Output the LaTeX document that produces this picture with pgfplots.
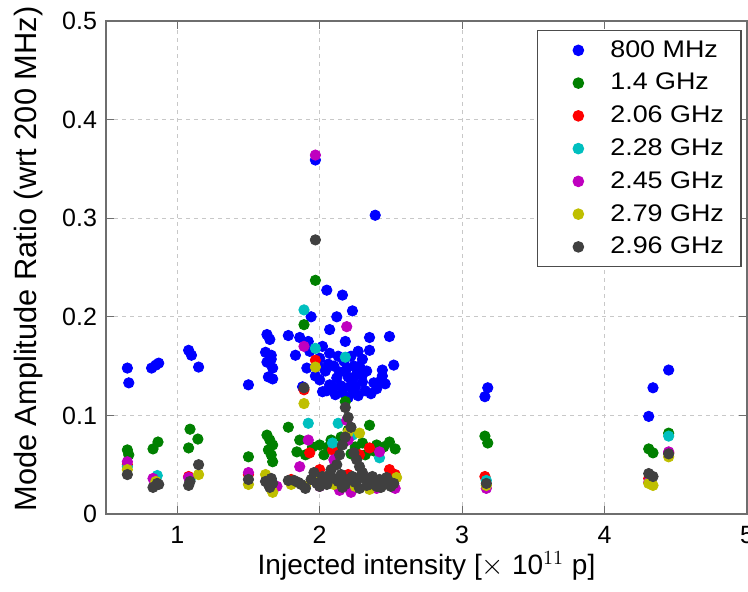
\documentclass[border=0pt]{standalone}
\usepackage{fontspec}
\setmainfont{Liberation Sans}
\newfontfamily\legfont{Liberation Sans}[FakeStretch=1.12]
\usepackage{pgfplots}
\pgfplotsset{compat=1.18}
\definecolor{colB}{RGB}{0,0,255}
\definecolor{colG}{RGB}{0,128,0}
\definecolor{colR}{RGB}{255,0,0}
\definecolor{colC}{RGB}{0,191,191}
\definecolor{colM}{RGB}{191,0,191}
\definecolor{colY}{RGB}{191,191,0}
\definecolor{colK}{RGB}{64,64,64}
\definecolor{axgray}{RGB}{110,110,110}
\definecolor{gridgray}{RGB}{200,200,200}
\begin{document}
\begin{tikzpicture}
\begin{axis}[
  name=ax,
  scale only axis,
  width=320.5pt, height=246.5pt,
  xmin=0.5, xmax=5, ymin=0, ymax=0.5,
  xtick={1,2,3,4,5}, ytick={0,0.1,0.2,0.3,0.4,0.5},
  yticklabels={0,0.1,0.2,0.3,0.4,0.5},
  xticklabels={1,2,3,4,5},
  tick align=inside,
  major tick length=4pt,
  axis line style={axgray, line width=0.8pt},
  every tick/.style={axgray, line width=0.6pt},
  grid=major,
  major grid style={gridgray, dash pattern=on 2pt off 2pt, line width=0.5pt},
  tick label style={font=\fontsize{12.5}{15}\selectfont},
  xticklabel style={yshift=-2.5pt},
  yticklabel style={xshift=-1pt},
  /pgf/number format/assume math mode=true,
  xlabel={Injected intensity [$\times$ 10$^{11}$ p]},
  ylabel={Mode Amplitude Ratio (wrt 200 MHz)},
  xlabel style={font=\fontsize{14}{16}\selectfont, at={(axis description cs:0.5,-0.1237)}, anchor=base},
  ylabel style={font=\fontsize{15.4}{18}\selectfont, at={(axis description cs:-0.1201,0.517)}, anchor=center},
  legend cell align=left,
  legend style={at={(rel axis cs:0.672,0.982)}, anchor=north west,
    font=\legfont\fontsize{12}{14}\selectfont, draw=black!70, line width=0.6pt,
    inner xsep=6.5pt, inner ysep=3pt, row sep=2.5pt},
  every axis plot/.append style={only marks, mark=*, mark size=2.6pt,
    legend image code/.code={\path[draw=none,fill=none] (0pt,0pt) (28pt,0pt);\path[#1,draw=none] plot[only marks] coordinates {(14pt,0pt)};}},
]
\addplot[colB] coordinates {
(0.65,0.148)(0.66,0.133)(0.82,0.148)(0.85,0.151)(0.87,0.153)
(1.08,0.166)(1.10,0.161)(1.15,0.149)(1.50,0.131)
(1.63,0.182)(1.65,0.177)(1.62,0.164)(1.66,0.161)(1.63,0.154)(1.67,0.148)(1.64,0.139)(1.67,0.137)(1.66,0.157)
(1.78,0.181)(1.86,0.179)(1.92,0.175)(1.83,0.161)(1.91,0.148)(1.88,0.129)
(1.97,0.359)(2.39,0.303)(2.05,0.227)(2.16,0.222)(2.23,0.206)(2.12,0.200)(1.94,0.200)(2.07,0.187)
(2.35,0.179)(2.49,0.180)(2.18,0.175)(2.35,0.166)(2.07,0.163)(2.52,0.151)(2.44,0.146)(2.42,0.134)
(2.30,0.141)(2.14,0.144)(2.23,0.136)(2.07,0.131)(2.38,0.133)(2.00,0.136)(2.02,0.124)(2.09,0.129)
(2.21,0.129)(2.30,0.134)(1.93,0.165)(1.97,0.140)(1.99,0.150)(2.04,0.145)(2.10,0.150)(2.12,0.138)
(2.15,0.130)(2.17,0.155)(2.19,0.148)(2.20,0.139)(2.22,0.160)(2.24,0.150)(2.25,0.128)(2.26,0.142)
(2.27,0.120)(2.28,0.150)(2.32,0.125)(2.33,0.145)(2.36,0.122)(2.40,0.127)(2.44,0.140)(2.46,0.132)
(2.05,0.125)(2.11,0.121)(2.16,0.123)(2.20,0.118)(2.24,0.124)(2.13,0.160)(2.27,0.165)(2.30,0.157)
(2.00,0.158)(2.06,0.152)(2.02,0.170)
(3.16,0.119)(3.18,0.128)(4.31,0.099)(4.34,0.128)(4.45,0.146)
};
\addlegendentry{800 MHz}
\addplot[colG] coordinates {
(0.65,0.065)(0.66,0.060)(0.83,0.066)(0.865,0.073)(1.09,0.086)(1.145,0.076)(1.08,0.067)(1.50,0.058)
(1.63,0.080)(1.65,0.075)(1.67,0.070)(1.64,0.065)(1.66,0.060)(1.67,0.053)(1.78,0.088)(1.86,0.075)
(1.84,0.063)(1.90,0.060)(1.89,0.192)(1.97,0.237)(2.00,0.070)(2.03,0.060)(2.06,0.068)(2.12,0.066)
(2.18,0.114)(2.20,0.085)(2.15,0.078)(2.25,0.068)(2.30,0.072)(2.35,0.090)(2.32,0.060)(2.40,0.070)
(2.45,0.068)(2.49,0.073)(2.53,0.066)(2.38,0.064)(2.22,0.061)(2.08,0.075)(1.95,0.068)
(3.16,0.079)(3.18,0.072)(4.31,0.066)(4.34,0.062)(4.45,0.082)
};
\addlegendentry{1.4 GHz}
\addplot[colR] coordinates {
(0.65,0.050)(0.84,0.036)(1.08,0.038)(1.50,0.040)(1.65,0.033)(1.97,0.156)(1.89,0.126)(1.93,0.062)
(2.09,0.065)(2.35,0.067)(2.28,0.060)(2.49,0.045)(2.53,0.040)(2.20,0.040)(2.00,0.045)(1.80,0.035)
(3.16,0.038)(4.31,0.036)(4.45,0.062)
};
\addlegendentry{2.06 GHz}
\addplot[colC] coordinates {
(0.65,0.048)(0.86,0.039)(1.09,0.035)(1.89,0.207)(1.97,0.168)(2.18,0.159)(1.92,0.092)(2.09,0.072)
(2.13,0.092)(2.42,0.057)(2.23,0.080)(1.66,0.035)(3.17,0.034)(4.45,0.079)(4.32,0.035)
};
\addlegendentry{2.28 GHz}
\addplot[colM] coordinates {
(0.65,0.053)(0.83,0.036)(1.08,0.037)(1.50,0.042)(1.97,0.364)(1.89,0.170)(2.19,0.190)(1.92,0.075)
(1.86,0.048)(2.19,0.095)(2.42,0.063)(2.53,0.026)(2.20,0.075)(2.10,0.055)(2.30,0.040)(2.40,0.026)
(2.00,0.028)(1.70,0.028)(1.65,0.030)(3.17,0.026)(4.31,0.032)(4.45,0.063)(2.22,0.022)(2.14,0.024)
};
\addlegendentry{2.45 GHz}
\addplot[colY] coordinates {
(0.65,0.045)(0.85,0.033)(1.15,0.040)(1.50,0.030)(1.62,0.040)(1.66,0.025)(1.67,0.022)(1.97,0.149)
(1.89,0.112)(2.20,0.083)(2.54,0.037)(2.45,0.030)(2.35,0.025)(2.25,0.028)(2.10,0.030)(2.00,0.033)
(1.90,0.028)(1.80,0.030)(2.28,0.082)(3.17,0.029)(4.31,0.031)(4.34,0.029)(4.45,0.058)
};
\addlegendentry{2.79 GHz}
\addplot[colK] coordinates {
(0.65,0.040)(0.83,0.027)(0.86,0.031)(0.87,0.030)(1.08,0.029)(1.09,0.033)(1.15,0.050)(1.50,0.035)
(1.62,0.033)(1.64,0.030)(1.66,0.036)(1.67,0.031)(1.65,0.027)(1.78,0.034)(1.85,0.032)(1.90,0.026)
(1.89,0.128)(1.97,0.278)(2.18,0.108)(2.18,0.078)(2.16,0.070)(2.20,0.098)(2.22,0.088)(2.24,0.062)
(2.14,0.060)(2.26,0.055)(2.12,0.050)(2.28,0.048)(2.08,0.045)(2.30,0.042)(1.96,0.042)(2.02,0.038)
(1.94,0.035)(2.05,0.030)(2.10,0.036)(2.15,0.040)(2.20,0.035)(2.25,0.032)(2.32,0.036)(2.35,0.030)
(2.38,0.033)(2.42,0.035)(2.45,0.030)(2.48,0.034)(2.50,0.028)(2.52,0.031)(2.00,0.028)(2.16,0.027)
(2.28,0.026)(2.40,0.028)
(2.03,0.034)(2.07,0.040)(2.13,0.033)(2.18,0.030)(2.23,0.038)(2.27,0.036)(2.33,0.029)(2.37,0.038)
(2.43,0.027)(2.47,0.037)(1.82,0.034)(1.87,0.030)(1.98,0.031)
(3.17,0.031)(4.31,0.041)(4.34,0.038)(4.45,0.061)
};
\addlegendentry{2.96 GHz}
\end{axis}
\pgfresetboundingbox
\path (ax.south west) ++(-53pt,-39pt) coordinate (bl);
\path (ax.north east) ++(0.5pt,10.5pt) coordinate (tr);
\path[use as bounding box] (bl) rectangle (tr);
\end{tikzpicture}
\end{document}
